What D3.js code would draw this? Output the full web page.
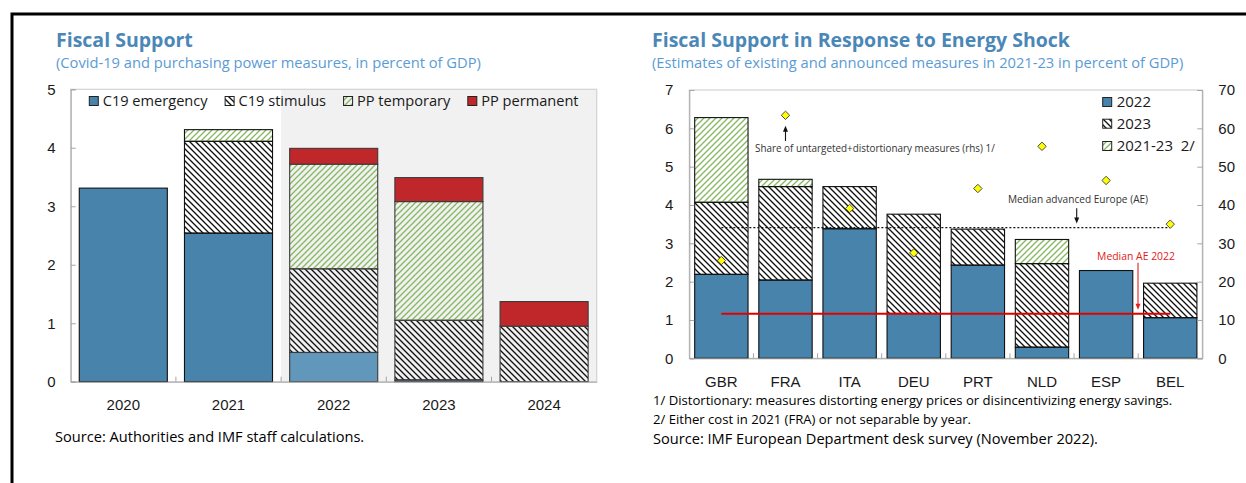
<!DOCTYPE html>
<html><head><meta charset="utf-8">
<script src="https://cdn.jsdelivr.net/npm/d3@7"></script>
<style>
body{margin:0;background:#fff;}
svg{display:block;font-family:'Open Sans','Noto Sans',sans-serif;}
</style>
</head><body>
<svg id="c" width="1246" height="483"></svg>
<script>
// ---------- Left chart data ----------
const years = ["2020", "2021", "2022", "2023", "2024"];
const leftSeries = ["C19 emergency", "C19 stimulus", "PP temporary", "PP permanent"];
const c19Emergency = [3.31, 2.54, 0.50, 0.03, 0];
const c19Stimulus  = [0, 1.57, 1.43, 1.02, 0.95];
const ppTemporary  = [0, 0.20, 1.79, 2.03, 0];
const ppPermanent  = [0, 0, 0.27, 0.41, 0.42];
const leftTicks = [0, 1, 2, 3, 4, 5];
const shadedFrom = "2022";

// ---------- Right chart data ----------
const countries = ["GBR", "FRA", "ITA", "DEU", "PRT", "NLD", "ESP", "BEL"];
const rightSeries = ["2022", "2023", "2021-23  2/"];
const v2022    = [2.19, 2.04, 3.38, 1.17, 2.43, 0.29, 2.29, 1.06];
const v2023    = [1.88, 2.44, 1.10, 2.59, 0.94, 2.18, 0, 0.90];
const v2021_23 = [2.21, 0.19, 0, 0, 0, 0.63, 0, 0];
const shareUntargeted = [25.5, 63.4, 39.1, 27.5, 44.3, 55.3, 46.4, 35.0];
const medianAE = 3.41;
const medianAE2022 = 1.16;
const rightTicksL = [0, 1, 2, 3, 4, 5, 6, 7];
const rightTicksR = [0, 10, 20, 30, 40, 50, 60, 70];

// ---------- Texts ----------
const leftTitle = "Fiscal Support";
const leftSub = "(Covid-19 and purchasing power measures, in percent of GDP)";
const leftSource = "Source: Authorities and IMF staff calculations.";
const rightTitle = "Fiscal Support in Response to Energy Shock";
const rightSub = "(Estimates of existing and announced measures in 2021-23 in percent of GDP)";
const note1 = "1/ Distortionary: measures distorting energy prices or disincentivizing energy savings.";
const note2 = "2/ Either cost in 2021 (FRA) or not separable by year.";
const rightSource = "Source: IMF European Department desk survey (November 2022).";
const annShare = "Share of untargeted+distortionary measures (rhs) 1/";
const annMedian = "Median advanced Europe (AE)";
const annMedian22 = "Median AE 2022";

// ---------- Styles ----------
const BLUE = "#4783ab", BLUE_LIGHT = "#6097bb", RED = "#c0272a";
const TITLE = "#4a87b7", SUB = "#5b9bd5";
const svg = d3.select("#c");

const defs = svg.append("defs");
const pb = defs.append("pattern").attr("id", "hb").attr("patternUnits", "userSpaceOnUse")
  .attr("width", 6).attr("height", 6);
pb.append("path").attr("d", "M-1,-1L7,7M-1,5L1,7M5,-1L7,1")
  .attr("stroke", "#111").attr("stroke-width", 1.35).attr("fill", "none");
const pg = defs.append("pattern").attr("id", "hg").attr("patternUnits", "userSpaceOnUse")
  .attr("width", 6).attr("height", 6);
pg.append("path").attr("d", "M-1,7L7,-1M-1,1L1,-1M5,7L7,5")
  .attr("stroke", "#84b85f").attr("stroke-width", 1.3).attr("fill", "none");

// Frame
svg.append("path").attr("d", "M12,483V14H1246").attr("fill", "none").attr("stroke", "#000").attr("stroke-width", 3);

// ================= LEFT CHART =================
{
  const L = 70.7, R = 596.7, T = 89.3, B = 381.7;
  const x = d3.scaleBand(years, [L, R]).paddingInner(0.163).paddingOuter(0.0815);
  const y = d3.scaleLinear([0, 5], [B, T]);
  const g = svg.append("g");
  const step = x.step();
  const shadeX = L + years.indexOf(shadedFrom) * step;
  g.append("rect").attr("x", shadeX).attr("y", T).attr("width", R - shadeX).attr("height", B - T).attr("fill", "#f1f1f1");
  g.append("rect").attr("x", L).attr("y", T).attr("width", R - L).attr("height", B - T)
    .attr("fill", "none").attr("stroke", "#d3d3d3").attr("stroke-width", 1.2);

  const rows = years.map((yr, i) => ({yr, e: c19Emergency[i], s: c19Stimulus[i], t: ppTemporary[i], p: ppPermanent[i]}));
  const stack = d3.stack().keys(["e", "s", "t", "p"])(rows);
  const fills = ["", "url(#hb)", "url(#hg)", RED];
  stack.forEach((layer, k) => {
    g.selectAll(null).data(layer.filter(d => d[1] - d[0] > 0)).join("rect")
      .attr("x", d => x(d.data.yr)).attr("width", x.bandwidth())
      .attr("y", d => y(d[1])).attr("height", d => y(d[0]) - y(d[1]))
      .attr("fill", d => k === 0 ? (years.indexOf(d.data.yr) >= years.indexOf(shadedFrom) ? BLUE_LIGHT : BLUE) : fills[k])
      .attr("stroke", d => years.indexOf(d.data.yr) >= years.indexOf(shadedFrom) ? "#3a3a3a" : "#111")
      .attr("stroke-width", 1.1);
  });

  const ya = d3.axisLeft(y).tickValues(leftTicks).tickSize(-5).tickPadding(15).tickFormat(d3.format("d"));
  const gy = g.append("g").attr("transform", `translate(${L},0)`).call(ya);
  gy.select(".domain").attr("stroke", "#a6a6a6");
  gy.selectAll(".tick line").attr("stroke", "#a6a6a6");
  gy.selectAll("text").attr("font-size", 15).attr("fill", "#1a1a1a");

  const xa = d3.axisBottom(x).tickSize(0).tickPadding(18);
  const gx = g.append("g").attr("transform", `translate(0,${B})`).call(xa);
  gx.select(".domain").attr("stroke", "#a6a6a6");
  gx.selectAll("text").attr("font-size", 15).attr("fill", "#1a1a1a");
  g.selectAll(null).data(years.slice(1)).join("line")
    .attr("x1", d => x(d) - x.step() * x.paddingInner() / 2).attr("x2", d => x(d) - x.step() * x.paddingInner() / 2)
    .attr("y1", B).attr("y2", B - 5).attr("stroke", "#a6a6a6");

  // Legend
  const legFills = [BLUE, "url(#hb)", "url(#hg)", RED];
  let lx = 89.3; const ly = 101;
  leftSeries.forEach((s, i) => {
    g.append("rect").attr("x", lx).attr("y", ly - 4.5).attr("width", 9).attr("height", 9)
      .attr("fill", legFills[i]).attr("stroke", "#222").attr("stroke-width", 1);
    const t = g.append("text").attr("x", lx + 13.4).attr("y", ly).attr("dy", "0.35em")
      .attr("font-size", 14.6).attr("fill", "#1a1a1a").text(s);
    lx += 13.4 + t.node().getComputedTextLength() + 17.5;
  });

  svg.append("text").attr("x", 56).attr("y", 47).attr("font-size", 19.5).attr("font-weight", 700).attr("fill", TITLE).text(leftTitle);
  svg.append("text").attr("x", 56).attr("y", 68).attr("font-size", 14.7).attr("fill", SUB).text(leftSub);
  svg.append("text").attr("x", 55).attr("y", 442).attr("font-size", 14.6).attr("fill", "#000").text(leftSource);
}

// ================= RIGHT CHART =================
{
  const L = 689.3, R = 1202.3, T = 90, B = 358.3;
  const x = d3.scaleBand(countries, [L, R]).paddingInner(0.168).paddingOuter(0.084);
  const y = d3.scaleLinear([0, 7], [B, T]);
  const yR = d3.scaleLinear([0, 70], [B, T]);
  const g = svg.append("g");
  g.append("rect").attr("x", L).attr("y", T).attr("width", R - L).attr("height", B - T)
    .attr("fill", "none").attr("stroke", "#d3d3d3").attr("stroke-width", 1.2);

  const rows = countries.map((c, i) => ({c, a: v2022[i], b: v2023[i], d: v2021_23[i]}));
  const stack = d3.stack().keys(["a", "b", "d"])(rows);
  const fills = [BLUE, "url(#hb)", "url(#hg)"];
  stack.forEach((layer, k) => {
    g.selectAll(null).data(layer.filter(d => d[1] - d[0] > 0)).join("rect")
      .attr("x", d => x(d.data.c)).attr("width", x.bandwidth())
      .attr("y", d => y(d[1])).attr("height", d => y(d[0]) - y(d[1]))
      .attr("fill", fills[k]).attr("stroke", "#111").attr("stroke-width", 1.1);
  });

  const ya = d3.axisLeft(y).tickValues(rightTicksL).tickSize(-5).tickPadding(16).tickFormat(d3.format("d"));
  const gy = g.append("g").attr("transform", `translate(${L},0)`).call(ya);
  gy.select(".domain").attr("stroke", "#a6a6a6");
  gy.selectAll(".tick line").attr("stroke", "#a6a6a6");
  gy.selectAll("text").attr("font-size", 15).attr("fill", "#1a1a1a");

  const yra = d3.axisRight(yR).tickValues(rightTicksR).tickSize(-5).tickPadding(16).tickFormat(d3.format("d"));
  const gyr = g.append("g").attr("transform", `translate(${R},0)`).call(yra);
  gyr.select(".domain").attr("stroke", "#a6a6a6");
  gyr.selectAll(".tick line").attr("stroke", "#a6a6a6");
  gyr.selectAll("text").attr("font-size", 15).attr("fill", "#1a1a1a");

  const xa = d3.axisBottom(x).tickSize(0).tickPadding(18);
  const gx = g.append("g").attr("transform", `translate(0,${B})`).call(xa);
  gx.select(".domain").attr("stroke", "#a6a6a6");
  gx.selectAll("text").attr("font-size", 15).attr("fill", "#1a1a1a");
  g.selectAll(null).data(countries.slice(1)).join("line")
    .attr("x1", d => x(d) - x.step() * x.paddingInner() / 2).attr("x2", d => x(d) - x.step() * x.paddingInner() / 2)
    .attr("y1", B).attr("y2", B - 5).attr("stroke", "#a6a6a6");

  const cx = c => x(c) + x.bandwidth() / 2;
  const first = countries[0], last = countries[countries.length - 1];
  // median lines
  g.append("line").attr("x1", cx(first)).attr("x2", cx(last)).attr("y1", y(medianAE)).attr("y2", y(medianAE))
    .attr("stroke", "#111").attr("stroke-width", 1.4).attr("stroke-dasharray", "2,2");
  g.append("line").attr("x1", cx(first)).attr("x2", cx(last)).attr("y1", y(medianAE2022)).attr("y2", y(medianAE2022))
    .attr("stroke", "#e00000").attr("stroke-width", 2);

  // diamonds
  g.selectAll(null).data(countries).join("path")
    .attr("d", (c, i) => { const px = cx(c), py = yR(shareUntargeted[i]), r = 4.2; return `M${px},${py - r}L${px + r},${py}L${px},${py + r}L${px - r},${py}Z`; })
    .attr("fill", "#ffff00").attr("stroke", "#4a4a4a").attr("stroke-width", 1);

  // annotations
  const arrow = (px, y1, y2, col) => {
    const dir = y2 > y1 ? 1 : -1;
    g.append("line").attr("x1", px).attr("x2", px).attr("y1", y1).attr("y2", y2 - dir * 4).attr("stroke", col).attr("stroke-width", 1.1);
    g.append("path").attr("d", `M${px},${y2}L${px - 2.5},${y2 - dir * 6}L${px + 2.5},${y2 - dir * 6}Z`).attr("fill", col);
  };
  const fra = cx("FRA");
  arrow(fra, 141, yR(shareUntargeted[1]) + 10.5, "#111");
  g.append("text").attr("x", 755).attr("y", 149).attr("dy", "0.35em").attr("font-size", 9.9).attr("fill", "#333").text(annShare);
  g.append("text").attr("x", 1078).attr("y", 199).attr("dy", "0.35em").attr("text-anchor", "middle").attr("font-size", 10.1).attr("fill", "#333").text(annMedian);
  arrow(1076.7, 208.3, y(medianAE) - 4, "#111");
  g.append("text").attr("x", 1136).attr("y", 256).attr("dy", "0.35em").attr("text-anchor", "middle").attr("font-size", 10.4).attr("fill", "#e02020").text(annMedian22);
  arrow(1138, 262.7, y(medianAE2022) - 4, "#e02020");

  // legend
  const legFills = [BLUE, "url(#hb)", "url(#hg)"];
  const legY = [102, 123.7, 146];
  rightSeries.forEach((s, i) => {
    g.append("rect").attr("x", 1102.7).attr("y", legY[i] - 4.5).attr("width", 9).attr("height", 9)
      .attr("fill", legFills[i]).attr("stroke", "#222").attr("stroke-width", 1);
    g.append("text").attr("x", 1116.7).attr("y", legY[i]).attr("dy", "0.35em").attr("font-size", 15)
      .attr("fill", "#1a1a1a").attr("style", "white-space:pre").text(s);
  });

  svg.append("text").attr("x", 652).attr("y", 47).attr("font-size", 19.5).attr("font-weight", 700).attr("fill", TITLE).text(rightTitle);
  svg.append("text").attr("x", 652).attr("y", 68).attr("font-size", 14.7).attr("fill", SUB).text(rightSub);
  svg.append("text").attr("x", 653).attr("y", 405).attr("font-size", 13.1).attr("fill", "#000").text(note1);
  svg.append("text").attr("x", 653).attr("y", 423.5).attr("font-size", 13.1).attr("fill", "#000").text(note2);
  svg.append("text").attr("x", 653).attr("y", 444).attr("font-size", 14.6).attr("fill", "#000").text(rightSource);
}
</script>
</body></html>
